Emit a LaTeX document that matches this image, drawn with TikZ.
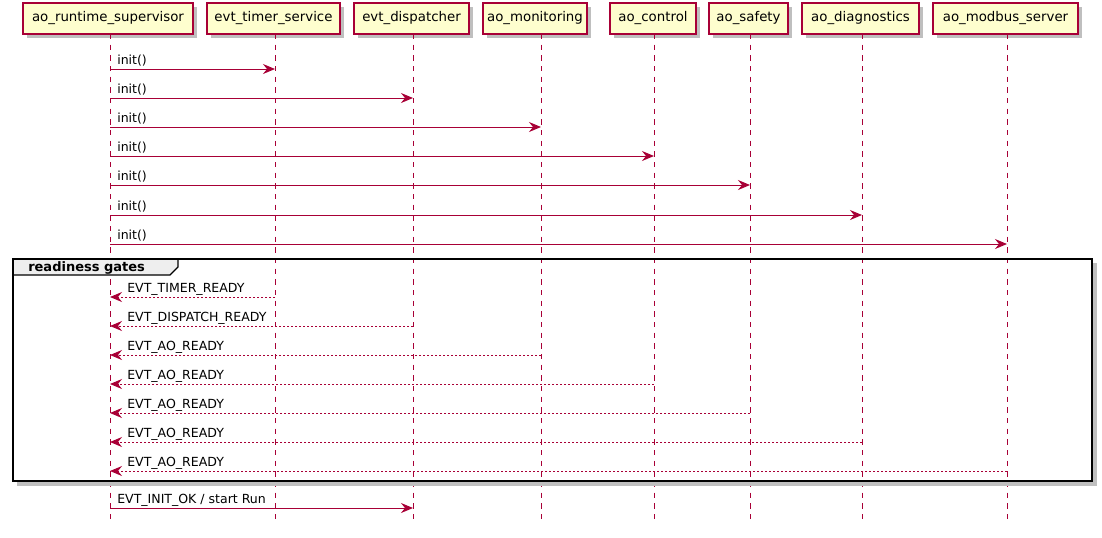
\documentclass[tikz,border=0pt]{standalone}
\usepackage{fontspec}
\setmainfont{DejaVu Sans}
\usetikzlibrary{arrows.meta,shadows,calc}
\definecolor{pbox}{HTML}{FEFECE}
\definecolor{pline}{HTML}{A80036}
\definecolor{tabgray}{HTML}{EEEEEE}
\begin{document}
\begin{tikzpicture}[x=0.75pt,y=-0.75pt,
  part/.style={draw=pline,fill=pbox,line width=0.9pt,minimum height=31*0.75pt,inner sep=0pt,
    font=\fontsize{10}{12}\selectfont,anchor=center,
    drop shadow={shadow xshift=3pt,shadow yshift=-3pt,opacity=0.25,fill=black}},
  life/.style={draw=pline,line width=0.75pt,dash pattern=on 4pt off 4pt},
  msg/.style={draw=pline,line width=0.75pt,-{Stealth[length=9pt,width=7.5pt,inset=3pt]}},
  ret/.style={msg,dash pattern=on 1.5pt off 1.5pt},
  lbl/.style={font=\fontsize{9.4}{11}\selectfont,inner sep=0pt,anchor=base west}
]
\useasboundingbox (0,0) rectangle (1102,537);
% participants
\node[part,minimum width=170*0.75pt] (sup) at (108,18.5) {ao\_runtime\_supervisor};
\node[part,minimum width=133*0.75pt] (tim) at (273.5,18.5) {evt\_timer\_service};
\node[part,minimum width=115*0.75pt] (dis) at (411.5,18.5) {evt\_dispatcher};
\node[part,minimum width=104*0.75pt] (mon) at (535,18.5) {ao\_monitoring};
\node[part,minimum width=86*0.75pt] (ctl) at (653,18.5) {ao\_control};
\node[part,minimum width=79*0.75pt] (saf) at (748.5,18.5) {ao\_safety};
\node[part,minimum width=117*0.75pt] (dia) at (860.5,18.5) {ao\_diagnostics};
\node[part,minimum width=145*0.75pt] (mod) at (1005.5,18.5) {ao\_modbus\_server};
% lifeline ends
\foreach \n/\x in {sup/110,tim/275,dis/413,mon/541,ctl/654,saf/750,dia/862,mod/1007}{
  \coordinate (\n T) at (\x,34);
  \coordinate (\n B) at (\x,523);
  \draw[life] (\n T) -- (\n B);
}
% init messages
\foreach \n/\y in {tim/69,dis/98,mon/127,ctl/156,saf/185,dia/215,mod/244}{
  \draw[msg] (supT |- 0,\y) -- (\n T |- 0,\y);
  \node[lbl] at (117,\y-5) {init()};
}
% group frame shadow
\draw[line width=3pt,black!25] (1095,263) -- (1095,484) -- (17,484);
\draw[line width=0.9pt,black,fill=tabgray] (13,259) -- (178,259) -- (178,267) -- (170,275) -- (13,275) -- cycle;
\draw[line width=1.5pt,black] (13,259) rectangle (1092,481);
\node[font=\bfseries\fontsize{9.75}{11}\selectfont,inner sep=0pt,anchor=base west] (gl) at (28,271) {readiness gates};
% readiness returns
\foreach \n/\y/\t in {tim/297/EVT\_TIMER\_READY,dis/326/EVT\_DISPATCH\_READY,mon/355/EVT\_AO\_READY,ctl/384/EVT\_AO\_READY,saf/413/EVT\_AO\_READY,dia/442/EVT\_AO\_READY,mod/471/EVT\_AO\_READY}{
  \draw[ret] (\n T |- 0,\y) -- (supT |- 0,\y);
  \node[lbl] at (127,\y-5) {\t};
}
% final message
\draw[msg] (supT |- 0,508) -- (disT |- 0,508);
\node[lbl] at (117,503) {EVT\_INIT\_OK / start Run};
\end{tikzpicture}
\end{document}
